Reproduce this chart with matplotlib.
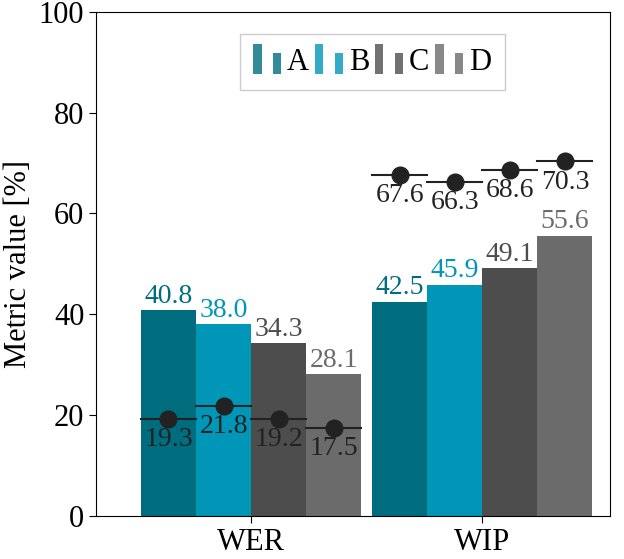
import numpy as np
import matplotlib
matplotlib.use('Agg')
import matplotlib.pyplot as plt
from matplotlib.patches import Rectangle
from matplotlib.legend_handler import HandlerBase

plt.rcParams['font.family'] = ['Liberation Serif', 'DejaVu Serif']

# data
groups = ['WER', 'WIP']
systems = ['A', 'B', 'C', 'D']
bar_vals = {'A': [40.8, 42.5], 'B': [38.0, 45.9], 'C': [34.3, 49.1], 'D': [28.1, 55.6]}
dot_vals = {'A': [19.3, 67.6], 'B': [21.8, 66.3], 'C': [19.2, 68.6], 'D': [17.5, 70.3]}
colors = {'A': '#006d7f', 'B': '#0096b8', 'C': '#4d4d4d', 'D': '#6b6b6b'}


class TwoBarHandler(HandlerBase):
    # legend entry: two thin bars of different height
    def create_artists(self, legend, orig_handle, xd, yd, w, h, fontsize, trans):
        c = orig_handle.get_facecolor()
        bw = w * 0.27
        r1 = Rectangle((xd, yd - h * 0.2), bw, h * 1.4, facecolor=c, alpha=0.8,
                       edgecolor='none', transform=trans)
        r2 = Rectangle((xd + w - bw - w * 0.08, yd - h * 0.2), bw, h * 1.0, facecolor=c,
                       alpha=0.8, edgecolor='none', transform=trans)
        return [r1, r2]


fig, ax = plt.subplots(figsize=(6.24, 5.59), dpi=100)
fig.subplots_adjust(left=0.154, right=0.978, top=0.979, bottom=0.077)

x = np.arange(len(groups))
width = 0.2385
handles = []
for i, s in enumerate(systems):
    pos = x + (i - 1.5) * width
    bars = ax.bar(pos, bar_vals[s], width, color=colors[s], zorder=2)
    handles.append(bars[0])
    for p, v in zip(pos, bar_vals[s]):
        ax.annotate(f'{v:.1f}', (p, v), xytext=(0, 1), textcoords='offset points',
                    ha='center', va='bottom', fontsize=20, color=colors[s])
    for p, v in zip(pos, dot_vals[s]):
        ax.plot([p - width / 2, p + width / 2], [v, v], color='#222222', lw=1.5, zorder=3)
        ax.plot(p, v, 'o', color='#222222', markersize=12, zorder=4)
        ax.annotate(f'{v:.1f}', (p, v), xytext=(0, -6), textcoords='offset points',
                    ha='center', va='top', fontsize=20, color='#222222')

ax.set_xlim(-0.671, 1.554)
ax.set_ylim(0, 100)
ax.set_xticks(x)
ax.set_xticklabels(groups)
ax.set_yticks([0, 20, 40, 60, 80, 100])
ax.tick_params(labelsize=22, length=5)
ax.set_ylabel('Metric value [%]', fontsize=22)

leg = ax.legend(handles, systems, loc='center', bbox_to_anchor=(0.537, 0.9), ncol=4,
                fontsize=22, handler_map={type(handles[0]): TwoBarHandler()},
                handlelength=1.0, handletextpad=0.1, columnspacing=0.2,
                fancybox=False, edgecolor='#cccccc', framealpha=1,
                borderpad=0.45)
leg.get_frame().set_linewidth(1.0)

plt.savefig('out.png')
